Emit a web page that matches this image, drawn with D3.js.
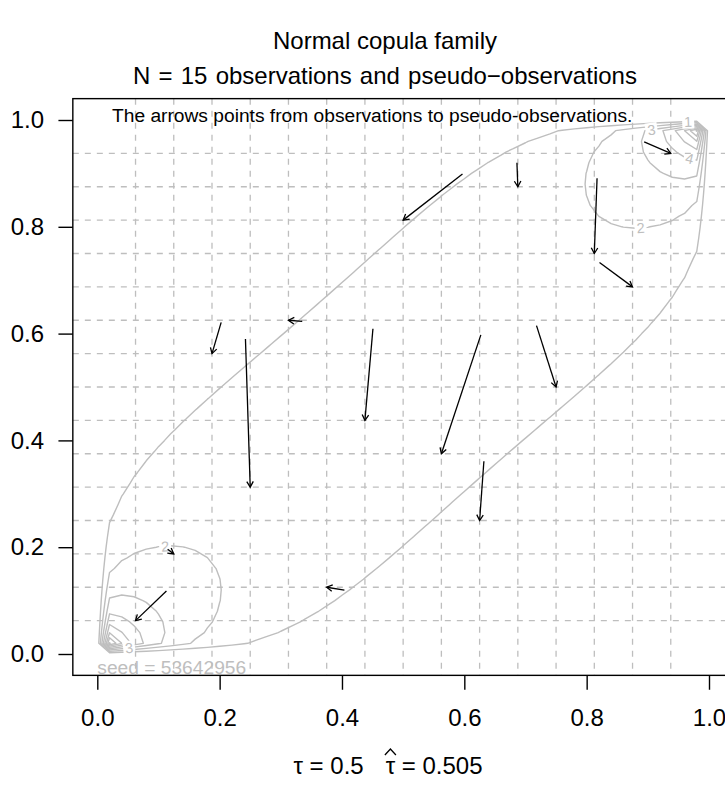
<!DOCTYPE html>
<html>
<head>
<meta charset="utf-8">
<script src="https://cdn.jsdelivr.net/npm/d3@7"></script>
<style>
  body { margin: 0; background: #ffffff; }
  svg { display: block; }
  text { font-family: "Liberation Sans", Arial, Helvetica, sans-serif; }
</style>
</head>
<body>
<div id="chart"></div>
<script>
// Observations (u, v) drawn from the normal copula
const obsU = [0.597, 0.686, 0.894, 0.817, 0.821, 0.2025, 0.335, 0.2422, 0.4506, 0.627, 0.718, 0.632, 0.404, 0.113, 0.115];
const obsV = [0.899, 0.920, 0.959, 0.891, 0.733, 0.621, 0.623, 0.590, 0.609, 0.5976, 0.615, 0.361, 0.1196, 0.118, 0.196];
// Matching pseudo-observations (rank / (N + 1))
const pseudoU = [0.5, 0.6875, 0.9375, 0.8125, 0.875, 0.1875, 0.3125, 0.25, 0.4375, 0.5625, 0.75, 0.625, 0.375, 0.0625, 0.125];
const pseudoV = [0.8125, 0.875, 0.9375, 0.75, 0.6875, 0.5625, 0.625, 0.3125, 0.4375, 0.375, 0.5, 0.25, 0.125, 0.0625, 0.1875];

// Reference grid at the possible pseudo-observation values k / 16
const gridBreaks = [0.0625, 0.125, 0.1875, 0.25, 0.3125, 0.375, 0.4375, 0.5, 0.5625, 0.625, 0.6875, 0.75, 0.8125, 0.875, 0.9375];
const xTicks = [0, 0.2, 0.4, 0.6, 0.8, 1.0];
const yTicks = [0, 0.2, 0.4, 0.6, 0.8, 1.0];

// Density contour levels and where their labels sit
const contourLevels = [1, 2, 3, 4, 5, 6, 7, 8];
const labelLevels = [1, 2, 2, 3, 3, 4];
const labelU = [0.966, 0.888, 0.111, 0.906, 0.052, 0.969];
const labelV = [0.995, 0.800, 0.201, 0.981, 0.011, 0.931];

const N = 15;
const tau = 0.5;
const tauHat = 0.505;
const seed = 53642956;

const W = 725, H = 785;
const x = d3.scaleLinear().domain([0, 1]).range([97.3, 709]);
const y = d3.scaleLinear().domain([0, 1]).range([654, 120]);
const boxL = x(-0.04), boxR = x(1.04), boxT = y(1.04), boxB = y(-0.04);
const titleX = 385;

const GRAY = "#bebebe";
const svg = d3.select("#chart").append("svg").attr("width", W).attr("height", H);
svg.append("rect").attr("width", W).attr("height", H).attr("fill", "#fff");

// ---- normal copula density on a regular grid ----
function qnorm(p) {
  const a = [-3.969683028665376e+01, 2.209460984245205e+02, -2.759285104469687e+02, 1.383577518672690e+02, -3.066479806614716e+01, 2.506628277459239e+00];
  const b = [-5.447609879822406e+01, 1.615858368580409e+02, -1.556989798598866e+02, 6.680131188771972e+01, -1.328068155288572e+01];
  const c = [-7.784894002430293e-03, -3.223964580411365e-01, -2.400758277161838e+00, -2.549732539343734e+00, 4.374664141464968e+00, 2.938163982698783e+00];
  const d = [7.784695709041462e-03, 3.224671290700398e-01, 2.445134137142996e+00, 3.754408661907416e+00];
  const pl = 0.02425, ph = 1 - pl;
  let q, r;
  if (p < pl) {
    q = Math.sqrt(-2 * Math.log(p));
    return (((((c[0]*q+c[1])*q+c[2])*q+c[3])*q+c[4])*q+c[5]) / ((((d[0]*q+d[1])*q+d[2])*q+d[3])*q+1);
  } else if (p <= ph) {
    q = p - 0.5; r = q * q;
    return (((((a[0]*r+a[1])*r+a[2])*r+a[3])*r+a[4])*r+a[5])*q / (((((b[0]*r+b[1])*r+b[2])*r+b[3])*r+b[4])*r+1);
  } else {
    q = Math.sqrt(-2 * Math.log(1 - p));
    return -(((((c[0]*q+c[1])*q+c[2])*q+c[3])*q+c[4])*q+c[5]) / ((((d[0]*q+d[1])*q+d[2])*q+d[3])*q+1);
  }
}
const rho = Math.sin(Math.PI * tau / 2);
function copulaDensity(u, v) {
  if (u <= 0 || u >= 1 || v <= 0 || v >= 1) return 0;
  const s = qnorm(u), t = qnorm(v), r2 = rho * rho;
  return Math.exp(-(r2 * (s * s + t * t) - 2 * rho * s * t) / (2 * (1 - r2))) / Math.sqrt(1 - r2);
}
const gridN = 51;
const values = new Array(gridN * gridN);
for (let j = 0; j < gridN; j++)
  for (let i = 0; i < gridN; i++)
    values[j * gridN + i] = copulaDensity(i / (gridN - 1), j / (gridN - 1));
const contourSet = d3.contours().size([gridN, gridN]).thresholds(contourLevels)(values);
const toUnit = c => (c - 0.5) / (gridN - 1);

// ---- grid lines ----
const grid = svg.append("g").attr("stroke", GRAY).attr("stroke-width", 1.3).attr("stroke-dasharray", "6,6");
grid.selectAll("line.v").data(gridBreaks).join("line").attr("class", "v")
  .attr("x1", d => x(d)).attr("x2", d => x(d)).attr("y1", boxT).attr("y2", boxB);
grid.selectAll("line.h").data(gridBreaks).join("line").attr("class", "h")
  .attr("y1", d => y(d)).attr("y2", d => y(d)).attr("x1", boxL).attr("x2", boxR);

// ---- contour lines with gaps for labels ----
const ringLine = d3.line().x(p => x(toUnit(p[0]))).y(p => y(toUnit(p[1])));
const ringsByLevel = new Map();
contourSet.forEach(c => {
  const rings = [];
  c.coordinates.forEach(poly => poly.forEach(ring => rings.push(ring.map(p => [x(toUnit(p[0])), y(toUnit(p[1]))]))));
  ringsByLevel.set(c.value, rings);
});

function nearestOnRings(rings, px, py) {
  let best = null;
  rings.forEach(r => {
    for (let k = 0; k < r.length - 1; k++) {
      const [ax, ay] = r[k], [bx, by] = r[k + 1];
      const dx = bx - ax, dy = by - ay, L2 = dx * dx + dy * dy || 1;
      let t = ((px - ax) * dx + (py - ay) * dy) / L2;
      t = Math.max(0, Math.min(1, t));
      const qx = ax + t * dx, qy = ay + t * dy;
      const dist = Math.hypot(px - qx, py - qy);
      if (!best || dist < best.dist) best = { x: qx, y: qy, dist, ang: Math.atan2(dy, dx) * 180 / Math.PI };
    }
  });
  return best;
}
const labels = labelLevels.map((lv, i) => {
  const p = nearestOnRings(ringsByLevel.get(lv), x(labelU[i]), y(labelV[i]));
  let a = p.ang;
  if (a > 90) a -= 180;
  if (a < -90) a += 180;
  return { text: String(lv), x: p.x, y: p.y, ang: a };
});

const defs = svg.append("defs");
const mask = defs.append("mask").attr("id", "labelGaps").attr("maskUnits", "userSpaceOnUse")
  .attr("x", 0).attr("y", 0).attr("width", W).attr("height", H);
mask.append("rect").attr("width", W).attr("height", H).attr("fill", "#fff");
labels.forEach(l => {
  mask.append("rect").attr("x", l.x - 6).attr("y", l.y - 7).attr("width", 12).attr("height", 14)
    .attr("fill", "#000").attr("transform", `rotate(${l.ang},${l.x},${l.y})`);
});

const cg = svg.append("g").attr("mask", "url(#labelGaps)")
  .attr("fill", "none").attr("stroke", GRAY).attr("stroke-width", 1.4).attr("stroke-linejoin", "round");
contourSet.forEach(c => {
  c.coordinates.forEach(poly => poly.forEach(ring => {
    cg.append("path").attr("d", ringLine(ring) + "Z");
  }));
});
svg.append("g").selectAll("text").data(labels).join("text")
  .attr("x", d => d.x).attr("y", d => d.y).attr("dy", "0.36em")
  .attr("text-anchor", "middle").attr("font-size", 14.4).attr("fill", GRAY)
  .attr("transform", d => `rotate(${d.ang},${d.x},${d.y})`)
  .text(d => d.text);

// ---- arrows from observations to pseudo-observations ----
const arrows = obsU.map((u, i) => ({ x1: x(u), y1: y(obsV[i]), x2: x(pseudoU[i]), y2: y(pseudoV[i]) }));
const ag = svg.append("g").attr("stroke", "#000").attr("stroke-width", 1.3).attr("fill", "none");
ag.selectAll("line").data(arrows).join("line")
  .attr("x1", d => d.x1).attr("y1", d => d.y1).attr("x2", d => d.x2).attr("y2", d => d.y2);
const headLen = 6.5, headAng = Math.PI / 6;
ag.selectAll("path").data(arrows).join("path")
  .attr("d", d => {
    const th = Math.atan2(d.y2 - d.y1, d.x2 - d.x1);
    const p1 = [d.x2 - headLen * Math.cos(th - headAng), d.y2 - headLen * Math.sin(th - headAng)];
    const p2 = [d.x2 - headLen * Math.cos(th + headAng), d.y2 - headLen * Math.sin(th + headAng)];
    return `M${p1[0]},${p1[1]}L${d.x2},${d.y2}L${p2[0]},${p2[1]}`;
  });

// ---- box and axes ----
svg.append("rect").attr("x", boxL).attr("y", boxT).attr("width", boxR - boxL).attr("height", boxB - boxT)
  .attr("fill", "none").attr("stroke", "#000").attr("stroke-width", 1.4);

const xAxis = svg.append("g").attr("transform", `translate(0,${boxB})`)
  .call(d3.axisBottom(x).tickValues(xTicks).tickFormat(d3.format(".1f")).tickSizeInner(14.4).tickSizeOuter(0).tickPadding(19.5));
const yAxis = svg.append("g").attr("transform", `translate(${boxL},0)`)
  .call(d3.axisLeft(y).tickValues(yTicks).tickFormat(d3.format(".1f")).tickSizeInner(14.4).tickSizeOuter(0).tickPadding(14.4));
[xAxis, yAxis].forEach(g => {
  g.select(".domain").remove();
  g.selectAll("line").attr("stroke", "#000").attr("stroke-width", 1.4);
  g.selectAll("text").attr("font-size", 24).attr("fill", "#000")
    .attr("font-family", "'Liberation Sans', Arial, Helvetica, sans-serif");
});

// ---- texts ----
svg.append("text").attr("x", titleX).attr("y", 49).attr("text-anchor", "middle").attr("font-size", 24)
  .text("Normal copula family");
svg.append("text").attr("x", titleX).attr("y", 84).attr("text-anchor", "middle").attr("font-size", 24)
  .attr("word-spacing", 1.5)
  .text(`N = ${N} observations and pseudo\u2212observations`);
svg.append("text").attr("x", 112).attr("y", 121.7).attr("font-size", 19.2)
  .text("The arrows points from observations to pseudo-observations.");
svg.append("text").attr("x", x(0)).attr("y", 673.5).attr("font-size", 19.2).attr("fill", GRAY)
  .text(`seed = ${seed}`);

const sub = svg.append("text").attr("x", titleX + 3).attr("y", 774).attr("text-anchor", "middle").attr("font-size", 24);
sub.append("tspan").text(`\u03c4 = ${tau}`);
sub.append("tspan").attr("dx", 22).text(`\u03c4 = ${tauHat}`);
// hat over the estimated tau
const subNode = sub.node();
const tauIdx = (`\u03c4 = ${tau}`).length;
const ext = subNode.getExtentOfChar(tauIdx);
const hx = ext.x + ext.width / 2, hy = ext.y + 2;
svg.append("path")
  .attr("d", `M${hx - 5.5},${hy + 1}L${hx},${hy - 5}L${hx + 5.5},${hy + 1}`)
  .attr("fill", "none").attr("stroke", "#000").attr("stroke-width", 1.3);
</script>
</body>
</html>
